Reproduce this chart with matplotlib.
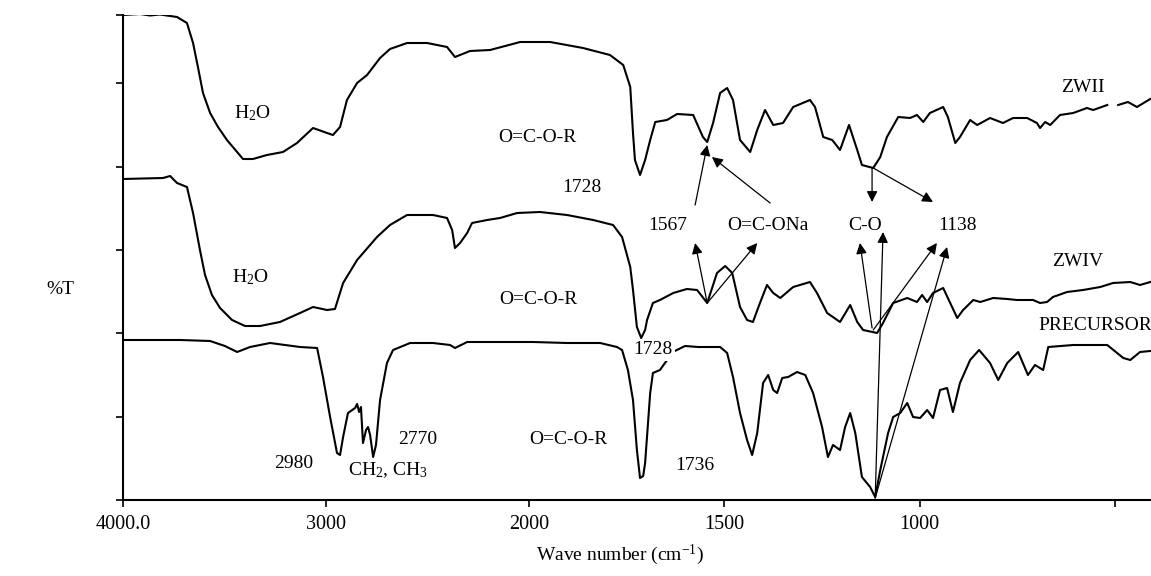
import numpy as np
import matplotlib.pyplot as plt

plt.rcParams['font.family'] = ['Liberation Serif', 'DejaVu Serif']
plt.rcParams['mathtext.fontset'] = 'custom'
plt.rcParams['mathtext.rm'] = 'Liberation Serif'
plt.rcParams['mathtext.it'] = 'Liberation Serif:italic'

# ZWII (top trace)
zwii_wn = [4000, 3916, 3867, 3818, 3734, 3685, 3655, 3631, 3606, 3571, 3532, 3488, 3409, 3360,
           3291, 3212, 3143, 3064, 2995, 2966, 2931, 2897, 2847, 2798, 2734, 2685, 2601, 2502,
           2404, 2365, 2291, 2192, 2044, 2000, 1946, 1862, 1793, 1759, 1741, 1734, 1729, 1716,
           1703, 1690, 1677, 1647, 1621, 1580, 1555, 1544, 1529, 1511, 1493, 1478, 1460, 1434,
           1416, 1396, 1375, 1350, 1324, 1281, 1268, 1247, 1224, 1204, 1181, 1160, 1148, 1119,
           1101, 1084, 1055, 1025, 1007, 991, 974, 940, 928, 909, 897, 871, 853, 820, 787, 761,
           725, 700, 692, 679, 666, 641, 607, 572, 556, 520, 506, 492, 467, 444, 410]
zwii_t = [97, 97.2, 96.9, 97.1, 96.6, 95.4, 91.4, 86.6, 81.4, 77.4, 74.6, 72, 68.2, 68.2,
          69, 69.6, 71.4, 74.4, 73.4, 73, 74.6, 80, 83.4, 85, 88.4, 90.2, 91.4, 91.4,
          90.6, 88.6, 89.8, 90, 91.6, 91.6, 91.6, 90.4, 89, 87, 82.6, 73.4, 68, 65,
          68, 72, 75.6, 76, 77.2, 77, 72.6, 71.6, 75.4, 81.4, 82.4, 80, 72, 69.6,
          74, 78, 75, 75.4, 78.6, 80, 78.6, 72.6, 72, 70, 75, 70, 67, 66.4,
          68.6, 72.6, 76.6, 76.4, 77, 75.6, 77.4, 78.6, 76.6, 71.4, 72.6, 76, 75, 76.4, 75.4, 76.4,
          76.4, 75.4, 74.4, 75.6, 75, 77, 77.4, 78.4, 78, 79, np.nan, 79, 79.6, 78.6, 80.2]

# ZWIV (middle trace)
zwiv_wn = [4000, 3803, 3768, 3734, 3685, 3655, 3621, 3596, 3562, 3522, 3463, 3399, 3325, 3227,
           3128, 3064, 2995, 2956, 2916, 2847, 2749, 2685, 2601, 2473, 2404, 2379, 2365, 2340,
           2305, 2281, 2207, 2143, 2059, 1972, 1903, 1836, 1785, 1762, 1741, 1734, 1724, 1713,
           1703, 1698, 1683, 1665, 1631, 1596, 1570, 1544, 1519, 1498, 1480, 1460, 1442, 1427,
           1409, 1391, 1375, 1357, 1324, 1281, 1263, 1237, 1204, 1178, 1160, 1145, 1109, 1094,
           1068, 1032, 1007, 994, 981, 966, 940, 922, 904, 889, 863, 845, 812, 776, 751, 710,
           692, 674, 659, 623, 582, 538, 505, 461, 436, 410]
zwiv_t = [64.2, 64.4, 64.8, 63.4, 62.6, 57.4, 50, 45, 41, 38.4, 36, 34.8, 34.8, 35.6,
          37.4, 38.6, 38, 38.2, 43.4, 48, 52.6, 55, 57, 57, 56.4, 54, 50.4, 51.4,
          53.4, 55.4, 56, 56.4, 57.4, 57.6, 57, 56, 55, 52.6, 46.6, 42, 34.6, 32.4,
          34, 36, 39.4, 40, 41.4, 42.2, 42, 39.4, 45.4, 46.8, 45.4, 38.6, 36, 35.6,
          39.4, 43, 41.4, 40.4, 42.6, 43.6, 41.4, 37.4, 35.6, 39, 35.6, 34, 33.4, 35.4,
          39.4, 40.4, 39.6, 41, 39.6, 41.4, 42.4, 39.4, 36.4, 38, 40, 39.6, 40.4, 40.2, 40, 40,
          39.4, 39.6, 40.6, 41.6, 42, 42.6, 43.4, 43.6, 43, 43.6]

# PRECURSOR (bottom trace)
prec_wn = [4000, 3867, 3719, 3571, 3498, 3438, 3374, 3276, 3128, 3044, 3015, 2980, 2946, 2931,
           2916, 2892, 2857, 2847, 2837, 2828, 2818, 2803, 2793, 2783, 2768, 2754, 2734, 2700,
           2670, 2586, 2473, 2389, 2365, 2305, 2143, 1990, 1903, 1818, 1775, 1762, 1747, 1734,
           1724, 1716, 1708, 1703, 1690, 1683, 1665, 1632, 1601, 1567, 1511, 1493, 1478, 1460,
           1442, 1429, 1416, 1401, 1388, 1375, 1365, 1352, 1337, 1314, 1293, 1273, 1250, 1235,
           1222, 1204, 1191, 1178, 1165, 1148, 1127, 1114, 1101, 1081, 1068, 1050, 1032, 1017,
           999, 981, 966, 948, 930, 915, 897, 871, 848, 820, 799, 776, 748, 723, 705, 684,
           671, 607, 520, 479, 461, 436, 410]
prec_t = [32, 32, 32, 31.8, 30.8, 29.6, 30.6, 31.4, 30.6, 30.4, 24.6, 16.6, 9.4, 9,
          12.6, 17.4, 18.4, 19.2, 17.6, 18.6, 11.4, 14, 14.6, 13, 8.6, 11, 20, 27.4,
          30, 31.4, 31.4, 31, 30.4, 31.6, 31.6, 31.6, 31.4, 31.4, 30.6, 30, 26, 20,
          10, 4.4, 4.8, 7.4, 21.4, 25.4, 26, 29.6, 30.8, 30.6, 30.6, 29.4, 24.6, 17.4,
          12, 9, 13.4, 23.4, 25, 22, 21.4, 24.4, 24.6, 25.6, 25, 21.4, 14.6, 8.6,
          11, 10, 14.6, 17.4, 13.4, 4.6, 2.6, 0.6, 6, 13.4, 16.6, 17.4, 19.4, 16.6,
          16.4, 18, 16.4, 22, 22.4, 17.6, 23.4, 28, 30, 27.4, 24, 27.4, 29.6, 25, 27, 26,
          30.6, 31, 31, 28.4, 28, 29.6, 29.8]

# annotations: text, wavenumber, %T, alignment
labels = [('H$_2$O', 3365, 77.4, 'center'), ('O=C-O-R', 1980, 72.6, 'center'),
          ('1728', 1864, 62.6, 'center'), ('1567', 1644, 55, 'center'),
          ('O=C-ONa', 1388, 55, 'center'), ('C-O', 1140, 55, 'center'),
          ('1138', 904, 55, 'center'), ('ZWII', 582, 82.6, 'center'),
          ('ZWIV', 597, 47.6, 'center'), ('PRECURSOR', 697, 35, 'left'),
          ('H$_2$O', 3374, 44.6, 'center'), ('O=C-O-R', 1977, 40, 'center'),
          ('2980', 3158, 7.4, 'center'), ('CH$_2$, CH$_3$', 2695, 6, 'center'),
          ('2770', 2547, 12, 'center'), ('O=C-O-R', 1900, 12, 'center'),
          ('1736', 1575, 7, 'center')]

# arrows: (tail wn, tail %T, head wn, head %T)
arrows = [(1575, 59, 1544, 71), (1383, 59.4, 1532, 68.6),
          (1122, 66.4, 1122, 59.6), (1119, 66.4, 966, 59.6),
          (1544, 39.4, 1575, 51.4), (1544, 39.4, 1416, 51.4),
          (1122, 34.4, 1153, 51.4), (1114, 0.4, 1094, 53.6),
          (1119, 34, 956, 51.4), (1114, 0.4, 930, 50.6)]

xticks = [4000, 3000, 2000, 1500, 1000, 500]
xticklabels = ['4000.0', '3000', '2000', '1500', '1000', '']
K = 1.924


def fwd(w):
    w = np.asarray(w, dtype=float)
    return np.where(w >= 2000, w, 2000 - (2000 - w) * K)


def inv(u):
    u = np.asarray(u, dtype=float)
    return np.where(u >= 2000, u, 2000 - (2000 - u) / K)


fig = plt.figure(figsize=(11.51, 5.76), dpi=100)
ax = fig.add_axes([123 / 1151, 76 / 576, 1 - 123 / 1151, 485 / 576])
ax.set_xscale('function', functions=(fwd, inv))

for wn, t in [(zwii_wn, zwii_t), (zwiv_wn, zwiv_t), (prec_wn, prec_t)]:
    ax.plot(wn, t, color='black', lw=1.5, solid_joinstyle='round')

for a in arrows:
    ax.annotate('', xy=(a[2], a[3]), xytext=(a[0], a[1]),
                arrowprops=dict(arrowstyle='-|>', color='black', lw=0.9,
                                mutation_scale=16, shrinkA=0, shrinkB=0))

for txt, x, y, ha in labels:
    ax.text(x, y, txt, ha=ha, va='center', fontsize=14)
ax.text(1683, 30, '1728', ha='center', va='center', fontsize=14,
        bbox=dict(facecolor='white', edgecolor='none', pad=1.5))

ax.set_xlim(4000, 408)
ax.set_ylim(0, 97)
ax.set_xticks(xticks)
ax.set_xticklabels(xticklabels, fontsize=14.5)
ax.set_yticks([0, 16.67, 33.33, 50, 66.67, 83.33, 97])
ax.set_yticklabels([])
ax.tick_params(axis='both', direction='out', length=5, width=1.2, pad=6)
ax.spines['top'].set_visible(False)
ax.spines['right'].set_visible(False)
ax.spines['left'].set_linewidth(1.5)
ax.spines['bottom'].set_linewidth(1.5)

fig.text(60 / 1151, 1 - 290 / 576, '%T', fontsize=14, ha='center', va='center')
fig.text(620 / 1151, 1 - 555 / 576, 'Wave number (cm$^{\\mathregular{-1}}$)', fontsize=14,
         ha='center', va='center')

fig.savefig('out.png', dpi=100)
